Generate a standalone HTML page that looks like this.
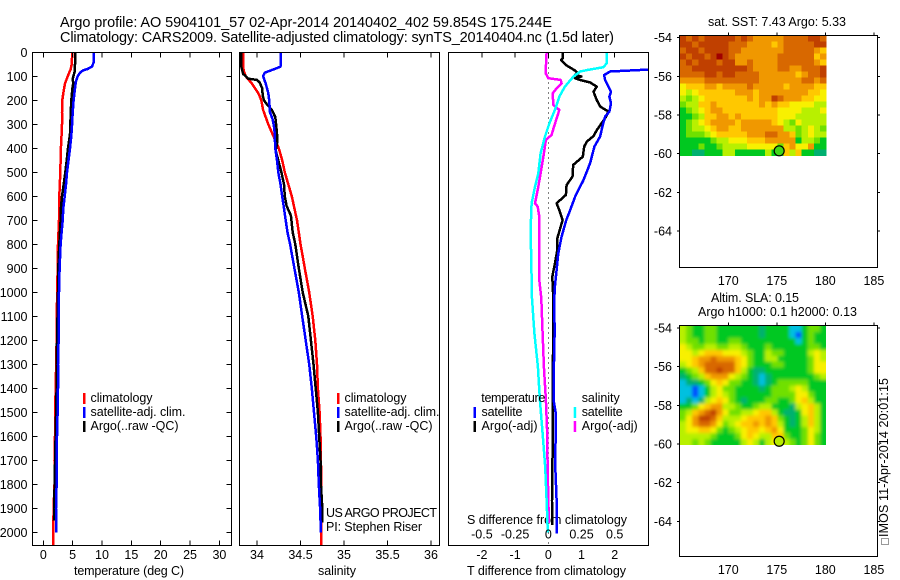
<!DOCTYPE html>
<html>
<head>
<meta charset="utf-8">
<title>Argo profile 5904101_57</title>
<style>
html,body{margin:0;padding:0;background:#fff;}
svg{display:block;}
text{font-family:"Liberation Sans",sans-serif;font-size:12.5px;fill:#000;}
.ttl{font-size:14.5px;}
</style>
</head>
<body>
<svg id="fig" xmlns="http://www.w3.org/2000/svg" width="900" height="580" viewBox="0 0 900 580">
<defs>
<clipPath id="clip-t"><rect x="33" y="52" width="198" height="494"/></clipPath>
<clipPath id="clip-s"><rect x="240" y="52" width="199" height="494"/></clipPath>
<clipPath id="clip-d"><rect x="449" y="52" width="199" height="494"/></clipPath>
<clipPath id="clip-sla"><rect x="680" y="326" width="146" height="119"/></clipPath>
<filter id="sla-smooth" filterUnits="userSpaceOnUse" x="660" y="306" width="186" height="160"><feGaussianBlur stdDeviation="1.5"/></filter>
</defs>
<text class="ttl" x="60" y="27" textLength="492">Argo profile: AO 5904101_57 02-Apr-2014 20140402_402 59.854S 175.244E</text>
<text class="ttl" x="60" y="42" textLength="554">Climatology: CARS2009. Satellite-adjusted climatology: synTS_20140404.nc (1.5d later)</text>

<text x="74" y="575" textLength="110">temperature (deg C)</text>
<text x="318" y="575" textLength="38">salinity</text>
<text x="467" y="575" textLength="159">T difference from climatology</text>
<text x="467" y="524" textLength="160">S difference from climatology</text>

<g>
<rect x="83" y="393" width="2.5" height="11" fill="#f00"/>
<text x="90.5" y="402" textLength="62">climatology</text>
<rect x="83" y="407" width="2.5" height="11" fill="#00f"/>
<text x="90.5" y="416" textLength="95">satellite-adj. clim.</text>
<rect x="83" y="421" width="2.5" height="11" fill="#000"/>
<text x="90.5" y="430" textLength="88">Argo(..raw -QC)</text>
</g>
<g>
<rect x="337" y="393" width="2.5" height="11" fill="#f00"/>
<text x="344.5" y="402" textLength="62">climatology</text>
<rect x="337" y="407" width="2.5" height="11" fill="#00f"/>
<text x="344.5" y="416" textLength="95">satellite-adj. clim.</text>
<rect x="337" y="421" width="2.5" height="11" fill="#000"/>
<text x="344.5" y="430" textLength="88">Argo(..raw -QC)</text>
</g>
<text x="326" y="517" textLength="111">US ARGO PROJECT</text>
<text x="326" y="531" textLength="96">PI: Stephen Riser</text>

<text x="708" y="26" textLength="138">sat. SST: 7.43 Argo: 5.33</text>
<text x="711" y="302" textLength="88">Altim. SLA: 0.15</text>
<text x="698" y="316" textLength="159">Argo h1000: 0.1 h2000: 0.13</text>
<text transform="translate(888,537) rotate(-90)" textLength="159">IMOS 11-Apr-2014 20:01:15</text>
<rect x="881.5" y="538.5" width="7" height="6" fill="none" stroke="#333" stroke-width="1" stroke-dasharray="1 1"/>
<g id="layer"></g>
</svg>
<script>
// ---------- profile data (depth in dbar) ----------
const climDepth = [0,50,70,100,130,170,200,250,300,350,400,500,600,700,800,900,1000,1100,1200,1300,1400,1500,1600,1700,1800,1900,2000,2060];
const climTemp = [4.94,4.83,4.66,4.15,3.7,3.4,3.24,3.18,3.18,3.1,3.0,2.9,2.73,2.67,2.5,2.44,2.39,2.27,2.27,2.2,2.1,2.05,2.0,1.9,1.9,1.76,1.7,1.7];
const satTempDepth = [0,40,60,70,75,85,100,120,150,200,250,300,350,400,450,500,550,600,650,700,750,800,900,1000,1100,1200,1300,1400,1500,1600,1700,1800,1900,2000];
const satTemp = [8.64,8.6,8.3,7.5,6.8,6.25,5.85,5.57,5.4,5.17,5,4.9,4.77,4.55,4.3,4.03,3.86,3.64,3.4,3.3,3.12,2.95,2.78,2.67,2.6,2.6,2.5,2.5,2.44,2.33,2.27,2.27,2.16,2.16];
const argoTempDepth = [0,50,80,110,130,150,200,235,340,400,450,500,550,600,650,700,800,900,1000,1300,1400,1600,1800,1950];
const argoTemp = [5.4,5.4,5.35,5,5.1,4.95,4.77,4.7,4.55,4.2,3.98,3.75,3.47,3.18,3,2.95,2.73,2.56,2.5,2.27,2.27,2.1,1.93,1.82];

const climSalDepth = [0,60,80,100,130,170,200,240,270,300,350,400,450,500,550,600,650,700,750,800,850,900,950,1000,1100,1200,1300,1400,1500,1600,1700,1800,2060];
const climSal = [33.84,33.84,33.85,33.87,33.94,34.015,34.05,34.07,34.1,34.13,34.19,34.25,34.29,34.32,34.36,34.4,34.43,34.46,34.48,34.5,34.525,34.55,34.575,34.6,34.64,34.67,34.69,34.7,34.72,34.73,34.735,34.74,34.74];
const satSalDepth = [0,60,70,85,100,130,170,200,250,280,320,400,450,500,550,600,650,700,750,800,900,1000,1100,1200,1300,1400,1500,1600,1700,1800,1900,2000];
const satSal = [34.276,34.27,34.2,34.09,34.07,34.1,34.13,34.14,34.15,34.18,34.2,34.21,34.23,34.245,34.27,34.29,34.31,34.33,34.35,34.38,34.43,34.48,34.52,34.56,34.6,34.63,34.655,34.68,34.7,34.71,34.725,34.735];
const argoSalDepth = [0,60,90,110,115,125,150,180,200,215,240,270,300,340,380,410,450,500,550,600,640,680,750,800,900,1000,1100,1200,1300,1400,1500,1600,1700,1800,1900,1960];
const argoSal = [33.82,33.82,33.84,33.9,34,34.03,34.06,34.065,34.08,34.11,34.17,34.21,34.22,34.23,34.23,34.215,34.245,34.28,34.31,34.32,34.34,34.39,34.41,34.44,34.48,34.525,34.59,34.62,34.65,34.675,34.7,34.715,34.73,34.735,34.75,34.75];

const satDiffTDepth = [66,70,72,80,95,115,143,164,185,212,247,268,310,351,393,462,532,601,657,700,768,837,907,976,1026,1171,1310,1449,1500,1588,1730,1866,2004];
const satDiffT = [3.6,3.3,3.0,1.86,1.68,1.71,1.81,1.89,1.84,1.89,1.84,1.71,1.63,1.56,1.39,1.26,1.06,0.81,0.66,0.54,0.4,0.3,0.25,0.2,0.18,0.19,0.17,0.16,0.22,0.22,0.21,0.25,0.26];
const argoDiffTDepth = [0,25,32,53,76,87,94,101,108,115,126,143,164,199,226,247,271,324,349,372,393,435,469,518,553,594,629,657,699,775,824,880,935,1025,1171,1380,1660,1870,1970];
const argoDiffT = [0.43,0.43,0.39,0.53,0.8,0.88,0.8,1.0,0.8,0.95,1.26,1.46,1.36,1.46,1.56,1.81,1.73,1.46,1.36,1.16,1.08,1.04,0.75,0.73,0.55,0.53,0.25,0.33,0.43,0.27,0.27,0.2,0.12,0.15,0.15,0.13,0.13,0.11,0.12];
const satDiffSDepth = [0,46,62,74,80,101,143,185,240,296,351,421,504,560,629,740,879,1025,1171,1310,1449,1588,1727,1866,1977,2000];
const satDiffS = [0.44,0.44,0.415,0.29,0.24,0.19,0.125,0.083,0.05,0.008,-0.025,-0.058,-0.075,-0.1,-0.126,-0.133,-0.128,-0.123,-0.105,-0.078,-0.063,-0.043,-0.023,-0.013,-0.005,-0.003];
const argoDiffSDepth = [0,87,108,115,129,150,171,219,240,275,310,344,365,421,504,560,629,643,685,810,949,1025,1171,1310,1449,1588,1727,1866,1962];
const argoDiffS = [-0.013,-0.02,0,0.093,0.1,0.063,0.033,0.038,0.083,0.063,0.043,0.025,-0.018,-0.033,-0.058,-0.075,-0.1,-0.08,-0.068,-0.068,-0.068,-0.053,-0.043,-0.033,-0.018,-0.008,-0.005,0,0.005];

// ---------- tick labels ----------
const depthTicks = [0,100,200,300,400,500,600,700,800,900,1000,1100,1200,1300,1400,1500,1600,1700,1800,1900,2000];
const tempTicks = [0,5,10,15,20,25,30];
const salTicks = [34,34.5,35,35.5,36];
const tDiffTicks = [-2,-1,0,1,2];
const sDiffTicks = [-0.5,-0.25,0,0.25,0.5];
const lonTicks = [170,175,180,185];
const latTicks = [54,56,58,60,62,64];
const argoLon = 175.244;
const argoLat = 59.854;

// ---------- map data: colour level per cell (0 blue ... 11 dark red), rows north to south ----------
const sstLevels = [
[10,9,10,9,10,10,10,10,10,9,10,9,8,8,8,8,8,9,9,9,9,10,10,9],
[10,10,9,10,10,10,10,10,9,9,9,8,8,8,8,7,8,9,9,9,9,9,10,10],
[9,10,10,9,10,10,10,10,9,9,8,8,8,8,8,8,8,9,9,9,9,9,8,7],
[10,9,10,10,9,10,11,10,9,8,8,8,8,8,8,8,9,9,9,9,9,9,7,8],
[9,10,9,10,10,10,9,10,10,8,8,9,8,8,8,8,9,9,9,9,9,9,8,7],
[9,9,10,10,10,10,10,10,10,10,10,9,8,8,8,8,9,9,8,8,9,9,9,10],
[9,9,9,9,10,10,9,10,10,9,9,9,9,8,8,8,8,8,8,7,8,9,9,10],
[8,8,8,8,9,9,9,9,9,9,9,9,9,8,8,8,8,8,8,8,9,9,8,9],
[6,7,7,7,8,8,7,8,8,8,8,9,8,8,8,8,8,7,8,8,8,8,7,7],
[6,5,6,7,7,7,7,7,7,8,8,8,7,8,8,8,8,8,8,8,8,7,7,6],
[5,4,5,6,7,7,7,7,7,7,7,8,7,8,8,10,9,8,8,8,7,7,6,6],
[4,5,5,7,7,8,7,7,7,7,7,7,7,8,7,8,7,7,6,6,6,6,5,5],
[3,4,5,6,7,8,8,7,7,7,7,7,7,7,7,7,6,6,6,6,5,5,5,6],
[3,3,4,5,7,7,8,8,7,8,7,7,7,7,7,7,6,6,6,5,5,5,5,5],
[3,4,5,6,7,8,8,8,8,7,8,8,8,8,8,7,6,5,4,6,5,5,5,5],
[3,4,5,5,6,7,8,8,7,7,8,8,8,8,8,8,8,5,5,4,5,6,5,4],
[3,4,4,4,5,6,7,7,7,7,7,8,8,8,9,9,8,8,7,4,5,6,5,5],
[3,3,3,3,3,4,5,5,6,6,6,7,7,7,8,8,8,8,8,3,5,5,4,3],
[3,3,3,4,3,3,4,5,5,5,5,6,6,6,6,6,4,7,8,6,6,8,3,3],
[3,3,2,2,3,3,3,5,5,3,3,3,3,3,5,3,3,7,5,7,3,3,2,2]
];
const slaLevels = [
[5,4,3,3,4,4,3,3,3,3,3,3,3,2,3,3,3,3,1,1,3,4,4,3],
[5,4,3,3,4,4,3,3,3,3,3,3,3,2,3,3,3,3,1,0,3,4,3,3],
[5,4,4,3,4,4,3,3,4,4,3,3,3,3,3,3,3,3,3,1,3,4,3,3],
[6,5,4,4,5,5,4,4,5,5,4,3,3,3,4,3,3,3,3,3,3,4,4,3],
[6,6,5,6,7,7,7,6,6,6,5,4,3,3,5,4,4,3,3,3,3,5,6,5],
[6,6,7,8,8,9,8,8,8,7,6,4,3,3,5,5,3,3,3,3,3,4,6,5],
[5,6,7,8,9,9,9,9,9,7,6,4,3,3,3,4,4,3,3,3,3,4,6,6],
[3,4,5,7,9,9,10,9,9,7,5,3,2,2,3,3,3,3,3,3,3,4,6,6],
[2,3,4,5,7,8,8,8,6,5,4,3,2,1,2,3,3,3,3,3,3,3,4,5],
[1,2,2,3,4,6,7,6,4,4,3,3,2,1,2,3,4,4,4,4,4,3,3,3],
[1,1,0,1,3,5,6,4,4,3,3,3,3,2,3,4,4,4,5,6,5,3,3,3],
[1,1,0,1,3,5,6,5,4,3,3,3,3,3,3,4,4,4,4,6,6,4,3,3],
[1,2,1,2,5,6,7,6,4,3,2,3,3,3,4,4,3,3,4,6,7,5,3,3],
[3,3,4,6,7,8,8,5,5,4,3,3,4,5,5,3,3,3,2,5,6,7,5,3],
[4,5,7,8,9,10,8,6,4,4,5,5,6,7,7,5,3,2,2,3,6,7,5,3],
[4,6,8,10,10,9,7,5,5,5,6,7,7,7,8,7,4,3,2,3,5,7,5,3],
[5,6,8,9,9,8,6,4,5,6,7,7,8,7,8,7,5,3,2,3,5,7,5,3],
[5,6,6,7,7,6,4,3,4,5,6,7,7,6,7,8,6,3,3,3,4,6,5,3],
[5,5,5,5,5,4,3,3,3,4,6,7,6,5,5,7,7,4,3,3,4,6,4,3],
[5,5,4,5,4,3,3,3,3,3,5,6,5,3,5,6,6,5,4,3,4,6,4,3]
];
const levelColors = ["#0050ff","#00c0e0","#00b070","#00c820","#70e000","#b8f000","#f8f000","#ffc800","#f09800","#d86800","#c04000","#a00000"];

// ---------- drawing helpers ----------
const NS = "http://www.w3.org/2000/svg";
const layer = document.getElementById("layer");
function mk(tag, geo, parent) {
  const el = document.createElementNS(NS, tag);
  for (const k in geo) el.setAttribute(k, geo[k]);
  (parent || layer).appendChild(el);
  return el;
}
const yDepth = d => 52.3 + d * 0.24;
const xTemp = v => 43.3 + v * 5.87;
const xSal = v => 257 + (v - 34) * 87;
const xTDiff = v => 548.3 + v * 33.2;
const xSDiff = v => 548.3 + v * 132.8;
const xLon = (lon, x0) => x0 + (lon - 165) * 9.71;
const yLat = (lat, y56) => y56 + (lat - 56) * 19.34;

function tick(x1, y1, x2, y2) {
  const t = mk("line", {x1: x1, y1: y1, x2: x2, y2: y2, stroke: "#000", "stroke-width": 1, "shape-rendering": "crispEdges"});
  
  
}
function label(str, x, y, anchor) {
  const t = mk("text", {x: x, y: y, "text-anchor": anchor});
  t.textContent = str;
  
  
}
function frame(x, y, w, h, name) {
  const r = mk("rect", {x: x, y: y, width: w, height: h, fill: "none", stroke: "#000", "stroke-width": 1, "shape-rendering": "crispEdges"});
  
  
}
function series(depths, values, xf, color, width, clip, name) {
  const pts = values.map((v, i) => xf(v).toFixed(1) + "," + yDepth(depths[i]).toFixed(1)).join(" ");
  const p = mk("polyline", {points: pts, fill: "none", stroke: color, "stroke-width": width, "clip-path": "url(#" + clip + ")", "stroke-linejoin": "round", "shape-rendering": "crispEdges"});
  
  
}
function heat(levels, x0, y0, cw, ch, name, parent, bleed) {
  const lastR = levels.length - 1;
  levels.forEach((row, r) => row.forEach((lv, c) => {
    const lastC = row.length - 1;
    // edge cells may bleed past the clip so smoothing does not fade at the map border
    const left = bleed && c === 0 ? bleed : 0;
    const right = bleed && c === lastC ? bleed : 0;
    const top = bleed && r === 0 ? bleed : 0;
    const bottom = bleed && r === lastR ? bleed : 0;
    const cell = mk("rect", {x: x0 + c * cw - left, y: y0 + r * ch - top, width: cw + 0.4 + left + right, height: ch + 0.4 + top + bottom, fill: levelColors[lv], "shape-rendering": "crispEdges"}, parent);
    
    
  }));
}
function marker(lon, lat, x0, y56, fill, name) {
  const c = mk("circle", {cx: xLon(lon, x0), cy: yLat(lat, y56), r: 5, fill: fill, stroke: "#000", "stroke-width": 1.2});
  
  
}

// ---------- temperature panel ----------
series(climDepth, climTemp, xTemp, "#f00", 2.5, "clip-t", "temperature-climatology-line");
series(argoTempDepth, argoTemp, xTemp, "#000", 2.5, "clip-t", "temperature-argo-line");
series(satTempDepth, satTemp, xTemp, "#00f", 2.5, "clip-t", "temperature-satellite-line");
frame(32.5, 52.5, 199, 493, "temperature-panel-frame");
depthTicks.forEach(d => {
  tick(32.5, yDepth(d), 37.5, yDepth(d));
  tick(226.5, yDepth(d), 231.5, yDepth(d));
  label(String(d), 27.5, yDepth(d) + 4.5, "end");
});
tempTicks.forEach(v => {
  tick(xTemp(v), 52.5, xTemp(v), 57.5);
  tick(xTemp(v), 540.5, xTemp(v), 545.5);
  label(String(v), xTemp(v), 559, "middle");
});

// ---------- salinity panel ----------
series(climSalDepth, climSal, xSal, "#f00", 2.5, "clip-s", "salinity-climatology-line");
series(argoSalDepth, argoSal, xSal, "#000", 2.5, "clip-s", "salinity-argo-line");
series(satSalDepth, satSal, xSal, "#00f", 2.5, "clip-s", "salinity-satellite-line");
frame(239.5, 52.5, 200, 493, "salinity-panel-frame");
salTicks.forEach(v => {
  tick(xSal(v), 52.5, xSal(v), 57.5);
  tick(xSal(v), 540.5, xSal(v), 545.5);
  label(String(v), xSal(v), 559, "middle");
});

// ---------- difference panel ----------
const zeroLine = mk("line", {x1: xTDiff(0), y1: 52.5, x2: xTDiff(0), y2: 545.5, stroke: "#000", "stroke-width": 1, "stroke-dasharray": "1 4", "shape-rendering": "crispEdges"});


series(argoDiffTDepth, argoDiffT, xTDiff, "#000", 2.5, "clip-d", "t-difference-argo-line");
series(satDiffTDepth, satDiffT, xTDiff, "#00f", 2.5, "clip-d", "t-difference-satellite-line");
series(argoDiffSDepth, argoDiffS, xSDiff, "#f0f", 2.5, "clip-d", "s-difference-argo-line");
series(satDiffSDepth, satDiffS, xSDiff, "#0ff", 2.5, "clip-d", "s-difference-satellite-line");
frame(448.5, 52.5, 200, 493, "difference-panel-frame");
tDiffTicks.forEach(v => {
  tick(xTDiff(v), 52.5, xTDiff(v), 57.5);
  label(String(v), xTDiff(v), 559, "middle");
});
sDiffTicks.forEach(v => {
  label(String(v), xSDiff(v), 538.5, "middle");
});

// ---------- SST map ----------
heat(sstLevels, 680, 35.5, 146 / 24, 6, "sst-cell", layer, 0);
marker(argoLon, argoLat, 679.7, 76.3, "#40d818", "sst-argo-marker");
frame(679.5, 35.5, 198, 232, "sst-map-frame");
lonTicks.forEach(v => {
  tick(xLon(v, 679.7), 32.5, xLon(v, 679.7), 35.5);
  label(String(v), xLon(v, 679.7), 285, "middle");
});
latTicks.forEach(v => {
  const y = yLat(v, 76.3);
  tick(677, y, 679.5, y);
  tick(877.5, y, 880, y);
  label("-" + v, 672, y + 4.5, "end");
});

// ---------- SLA map ----------
const slaClip = mk("g", {"clip-path": "url(#clip-sla)"});


const slaSmooth = mk("g", {filter: "url(#sla-smooth)"}, slaClip);


heat(slaLevels, 680, 326, 146 / 24, 5.95, "sla-cell", slaSmooth, 10);
marker(argoLon, argoLat, 679.7, 366.7, "#b8ec00", "sla-argo-marker");
frame(679.5, 325.5, 198, 231, "sla-map-frame");
lonTicks.forEach(v => {
  tick(xLon(v, 679.7), 322.5, xLon(v, 679.7), 325.5);
  label(String(v), xLon(v, 679.7), 574, "middle");
});
latTicks.forEach(v => {
  const y = yLat(v, 366.7);
  tick(677, y, 679.5, y);
  tick(877.5, y, 880, y);
  label("-" + v, 672, y + 4.5, "end");
});

// ---------- difference panel legend (drawn last, above the lines) ----------
const diffLegend = [
  ["temperature", 481.3, 402, 64, null],
  ["satellite", 481.5, 416, 41, "#00f"],
  ["Argo(-adj)", 481.5, 430, 56, "#000"],
  ["salinity", 581.7, 402, 38, null],
  ["satellite", 581.7, 416, 41, "#0ff"],
  ["Argo(-adj)", 581.7, 430, 56, "#f0f"]
];
diffLegend.forEach(e => {
  const t = mk("text", {x: e[1], y: e[2], textLength: e[3]});
  t.textContent = e[0];
  
  
  if (e[4]) {
    const s = mk("rect", {x: e[1] - 8, y: e[2] - 9, width: 2.5, height: 11, fill: e[4]});
    
    
  }
});
</script>
</body>
</html>
